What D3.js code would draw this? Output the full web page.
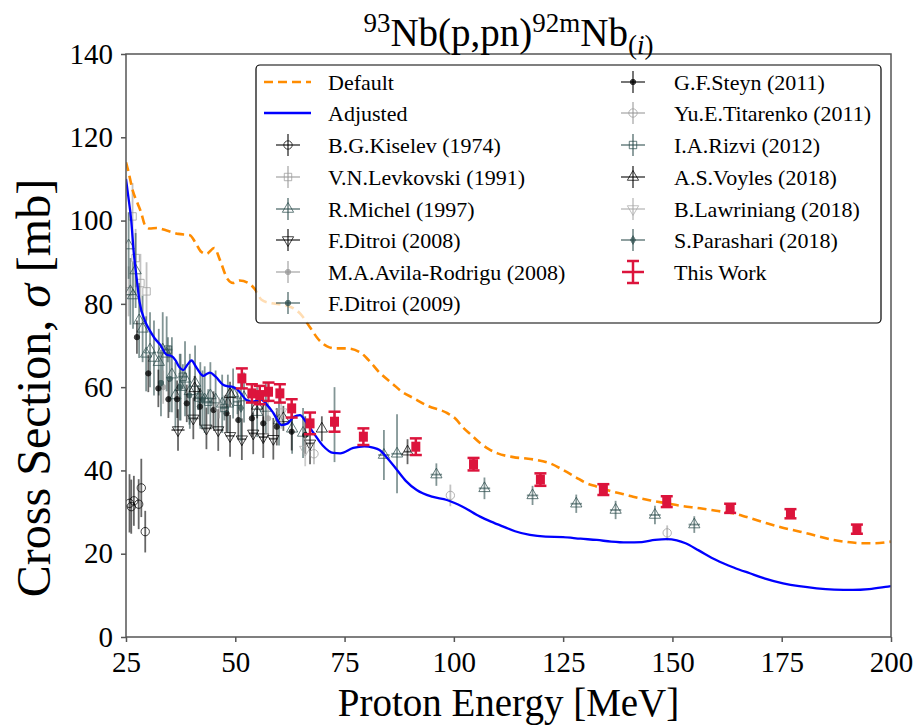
<!DOCTYPE html>
<html>
<head>
<meta charset="utf-8">
<script src="https://cdn.jsdelivr.net/npm/d3@7/dist/d3.min.js"></script>
<style>
  body { margin: 0; background: #fff; }
  svg text { font-family: "Liberation Serif", "DejaVu Serif", serif; fill: #000; }
</style>
</head>
<body>
<svg id="chart"></svg>
<script>
// ---- data ----
const xTicks = [25, 50, 75, 100, 125, 150, 175, 200]
const yTicks = [0, 20, 40, 60, 80, 100, 120, 140]

// model curves [E, sigma]
const defaultCurve = [
  [25, 114], [25.5, 112], [26.6, 107], [27.7, 104], [28.5, 101.8], [29.3, 99], [30.4, 98.1],
  [32, 98.2], [34.3, 97.6], [37, 96.8], [39.6, 96.5], [41, 94.5], [42.2, 92.5], [43.4, 92],
  [45.2, 93.4], [46.5, 90.5], [48.2, 86], [49.5, 85], [51, 85.6], [53, 85], [54.5, 83.5],
  [56, 81], [58, 80.2], [61, 79.8], [63.5, 78.8], [65, 77.5], [67, 74.5], [69, 71.5],
  [71, 69.8], [73, 69.3], [75.5, 69.3], [78.5, 68.4], [80.5, 66.5], [83, 63.5], [86, 60.8],
  [88, 59], [90.7, 57.4], [94, 55.5], [98.4, 53.8], [100.5, 52.3], [102, 50.4], [104, 48.5],
  [106, 46.6], [108, 45.1], [110, 44.1], [113.6, 43.2], [117, 42.8], [119, 42.5], [122, 41.7],
  [125, 40.1], [128, 38.3], [130, 37.1], [132.7, 36.1], [136, 35], [139.5, 34.1], [141, 33.7],
  [145, 32.8], [148.7, 32.1], [152, 31.5], [156.3, 30.9], [160, 30.3], [163.9, 29.7], [167, 28.8],
  [171.6, 27.3], [175, 26.3], [179.2, 25.3], [183, 24.3], [186.9, 23.3], [190, 22.8], [193.6, 22.5],
  [196, 22.5], [200, 22.9]
]
const adjustedCurve = [
  [25, 110], [25.5, 106], [26.2, 100], [26.8, 92], [27.4, 86.5], [28.1, 80.5], [29.3, 76],
  [30.5, 73.5], [31.5, 71.8], [32.8, 70.2], [34.3, 67.8], [35.4, 67.5], [36.3, 66.5], [37.2, 64.8],
  [38.1, 64.1], [39, 65.3], [40, 66.4], [41, 64.9], [42.7, 62.7], [43.5, 63.2], [44.2, 63.5],
  [45.5, 62.5], [47.3, 60.5], [48.3, 60.2], [49.2, 60.1], [50.5, 59.4], [52.6, 56.9], [54, 56.5],
  [55.7, 57.1], [57.2, 55.8], [58.7, 53.8], [60.6, 50.9], [62, 51.3], [63.4, 52.9], [64.8, 53.3],
  [66.2, 51.6], [67.9, 49], [70, 46], [72.4, 44.2], [74, 44.1], [77, 45.4], [79.5, 45.8],
  [81.5, 45.5], [83, 44.9], [85, 42.7], [87, 40.1], [89, 37.5], [91.5, 35.3], [95, 33.7],
  [98.4, 32.9], [102, 31.3], [106, 28.9], [108.5, 27.7], [111.3, 26.5], [114, 25.4], [117.4, 24.5],
  [121, 24.1], [125, 24], [129, 23.6], [132.7, 23.3], [136, 22.9], [139.5, 22.7], [143, 22.8],
  [146, 23.3], [148.7, 23.5], [151, 23.2], [153, 22.5], [156, 20.8], [160, 18.5], [164, 16.7],
  [167.7, 15.3], [171, 14.1], [175.3, 12.9], [179, 12.2], [183, 11.7], [187, 11.4], [191.3, 11.3],
  [195, 11.5], [199.3, 12.1], [200, 12.2]
]

// experiments [E, sigma, dSigma, dE]
const kiselev = [[25.8, 32.1, 7], [26.2, 31.3, 6.5], [26.8, 32.7, 6], [27.9, 31.9, 6], [28.5, 35.8, 7], [29.4, 25.3, 5]]
const levkovski = [[25.6, 83, 6], [26.5, 101, 8], [27.2, 91, 7], [28.3, 85, 7], [29.7, 83, 7]]
const michel = [
  [25.6, 94, 8], [26.0, 83, 8], [26.6, 82, 8], [27.2, 88, 9], [28.0, 76, 9], [28.8, 74, 8],
  [29.6, 68, 9], [30.5, 69, 9], [31.4, 67, 9], [32.5, 66, 8], [33.4, 69, 9], [34.3, 68, 9],
  [35.5, 63, 9], [36.3, 58, 8], [37.5, 60, 8], [38.5, 62, 9], [39.6, 59, 9], [40.8, 61, 9],
  [42, 58, 8], [43, 57, 8], [44.3, 58, 8], [45.5, 57, 7], [47, 56, 7], [48.3, 56, 7],
  [49.5, 58.5, 6], [52, 57.5, 6], [55, 54, 6], [57, 55, 6], [60, 52, 6], [63, 50, 6],
  [65.5, 49, 6], [84, 43.7, 6, 1.3], [87, 44, 9.5, 1.3], [96, 39, 2.7, 1.3], [107, 35.7, 2.6, 1.3],
  [118, 34, 2.3, 1.3], [128, 32, 2.2, 1.3], [137, 30.5, 2.2, 1.3], [146, 29.3, 2.2, 1.3], [155, 27, 2, 1.3]
]
const ditroi2008 = [
  [36.9, 49.7, 5, 1.5], [40.4, 52.5, 5, 1.2], [43.4, 50.1, 5, 1.2], [46.1, 49.7, 5, 1.2],
  [48.8, 48.3, 5, 1], [51.5, 47.5, 5, 1], [54.1, 48.9, 5, 1], [56.4, 48, 5, 1], [58.7, 47.6, 5, 1],
  [67.1, 46.5, 5, 1]
]
const avila = [[33.5, 60, 4], [57.5, 52.5, 4]]
const ditroi2009 = [[33, 61, 8], [35, 62, 8], [37.3, 60, 8], [39.5, 58, 7], [42.5, 57, 7]]
const steyn = [
  [27.5, 72, 4], [30.1, 63.3, 4.5], [32.4, 59.7, 4.5], [34.7, 57.1, 4.5], [36.7, 57.1, 4.5],
  [38.9, 56.1, 4.5], [41.9, 55.3, 4.5], [45, 54.5, 4.5], [48, 53.7, 4.5], [50.7, 52.1, 4.5],
  [53.8, 52.5, 4.5], [56.4, 51.3, 4.5], [59.5, 50.5, 4.5], [62.9, 49.3, 4.5], [66, 48.5, 4.5]
]
const titarenko = [[46.3, 55, 2.5], [68, 44, 2.5], [99.2, 34, 2.6], [148.8, 25, 1.8]]
const rizvi = [[34.6, 69, 3, 1], [38, 62.5, 3, 1], [41.5, 57.5, 3, 1], [43.8, 56.5, 3, 1], [47.5, 55, 3, 1], [50.5, 56.5, 3, 1]]
const voyles = [[40.7, 59.7, 3], [48.8, 58.3, 3], [55, 55.5, 3], [61, 52.5, 3], [69.8, 50, 3], [89.4, 44.5, 3, 0.8]]
const lawriniang = [[60.5, 54, 4], [66, 45, 4]]
const parashari = [[72.7, 51, 9], [51.3, 55, 8]]
const thisWork = [
  [51.5, 62.1, 2.4], [53.8, 58.5, 2.2], [55.6, 58.1, 2.2], [57.6, 58.9, 2.2], [60.2, 58.5, 2.2],
  [62.9, 54.9, 2.2], [67.1, 51.3, 2.6], [72.7, 51.7, 2.4], [79.3, 48.1, 2], [91.3, 45.7, 2],
  [104.5, 41.5, 1.5], [119.8, 37.8, 1.5], [134.2, 35.4, 1.3], [148.7, 32.5, 1.3], [163.2, 30.9, 1.1],
  [177, 29.6, 1.1], [192.2, 25.9, 1.1]
]

const experiments = [
  { name: 'B.G.Kiselev (1974)', data: kiselev, color: '#000', symbol: 'circle', open: true },
  { name: 'V.N.Levkovski (1991)', data: levkovski, color: '#999', symbol: 'square', open: true },
  { name: 'R.Michel (1997)', data: michel, color: '#2f4f4f', symbol: 'triangle', open: true },
  { name: 'F.Ditroi (2008)', data: ditroi2008, color: '#000', symbol: 'triangleDown', open: true },
  { name: 'M.A.Avila-Rodrigu (2008)', data: avila, color: '#999', symbol: 'dot', open: false },
  { name: 'F.Ditroi (2009)', data: ditroi2009, color: '#2f4f4f', symbol: 'dot', open: false },
  { name: 'G.F.Steyn (2011)', data: steyn, color: '#000', symbol: 'dot', open: false },
  { name: 'Yu.E.Titarenko (2011)', data: titarenko, color: '#999', symbol: 'circle', open: true },
  { name: 'I.A.Rizvi (2012)', data: rizvi, color: '#2f4f4f', symbol: 'square', open: true },
  { name: 'A.S.Voyles (2018)', data: voyles, color: '#000', symbol: 'triangle', open: true },
  { name: 'B.Lawriniang (2018)', data: lawriniang, color: '#aaa', symbol: 'triangleDown', open: true },
  { name: 'S.Parashari (2018)', data: parashari, color: '#2f4f4f', symbol: 'diamond', open: false },
]

// ---- layout ----
const width = 919, height = 727
const plotLeft = 126, plotRight = 891, plotTop = 54, plotBottom = 637
const FONT = '"Liberation Serif", "DejaVu Serif", serif'
const RED = '#dc143c'

const svg = d3.select('#chart').attr('width', width).attr('height', height)

const x = d3.scaleLinear().domain([25, 200]).range([plotLeft, plotRight])
const y = d3.scaleLinear().domain([0, 140]).range([plotBottom, plotTop])

svg.append('clipPath').attr('id', 'plot-clip')
  .append('rect').attr('x', plotLeft).attr('y', plotTop)
  .attr('width', plotRight - plotLeft).attr('height', plotBottom - plotTop)

const plot = svg.append('g').attr('clip-path', 'url(#plot-clip)')

function markerPath(symbol, size) {
  if (symbol === 'square') return d3.symbol(d3.symbolSquare, size)()
  if (symbol === 'diamond') return d3.symbol(d3.symbolDiamond, size)()
  if (symbol === 'triangle' || symbol === 'triangleDown') return d3.symbol(d3.symbolTriangle, size)()
  return d3.symbol(d3.symbolCircle, size)()
}

function drawMarker(g, s, cx, cy) {
  const size = (s.symbol === 'dot' || s.symbol === 'diamond') ? 22 : 55
  const rot = s.symbol === 'triangleDown' ? ' rotate(180)' : ''
  g.append('path')
    .attr('d', markerPath(s.symbol, size))
    .attr('transform', `translate(${cx},${cy})${rot}`)
    .attr('fill', s.open ? 'none' : s.color)
    .attr('stroke', s.color)
    .attr('stroke-width', 1)
    .attr('opacity', 0.75)
}

// experimental error bars
experiments.forEach(s => {
  const g = plot.append('g')
  s.data.forEach(([e, v, dv, de]) => {
    g.append('line')
      .attr('x1', x(e)).attr('x2', x(e))
      .attr('y1', y(v - dv)).attr('y2', y(v + dv))
      .attr('stroke', s.color).attr('stroke-width', 1.8).attr('stroke-opacity', 0.6)
    if (de) {
      g.append('line')
        .attr('x1', x(e - de)).attr('x2', x(e + de))
        .attr('y1', y(v)).attr('y2', y(v))
        .attr('stroke', s.color).attr('stroke-width', 1.8).attr('stroke-opacity', 0.6)
    }
    drawMarker(g, s, x(e), y(v))
  })
})

// model curves
const line = d3.line().x(d => x(d[0])).y(d => y(d[1])).curve(d3.curveMonotoneX)

plot.append('path').datum(adjustedCurve)
  .attr('d', line).attr('fill', 'none')
  .attr('stroke', '#0000ff').attr('stroke-width', 2.3)

plot.append('path').datum(defaultCurve)
  .attr('d', line).attr('fill', 'none')
  .attr('stroke', '#ff8c00').attr('stroke-width', 2.6)
  .attr('stroke-dasharray', '9,5')

// this work
const tw = plot.append('g')
thisWork.forEach(([e, v, dv]) => {
  const cx = x(e), cy = y(v)
  const capW = 6
  tw.append('line').attr('x1', cx).attr('x2', cx).attr('y1', y(v - dv)).attr('y2', y(v + dv))
    .attr('stroke', RED).attr('stroke-width', 2.5)
  tw.append('line').attr('x1', x(e - 0.8)).attr('x2', x(e + 0.8)).attr('y1', cy).attr('y2', cy)
    .attr('stroke', RED).attr('stroke-width', 2.5)
  ;[y(v - dv), y(v + dv)].forEach(capY => {
    tw.append('line').attr('x1', cx - capW).attr('x2', cx + capW).attr('y1', capY).attr('y2', capY)
      .attr('stroke', RED).attr('stroke-width', 2.5)
  })
  tw.append('rect').attr('x', cx - 4.5).attr('y', cy - 5).attr('width', 9).attr('height', 10)
    .attr('fill', RED)
})

// ---- axes ----
const axisColor = '#555'
const xAxis = d3.axisBottom(x).tickValues(xTicks).tickSize(5).tickPadding(9).tickSizeOuter(0)
const yAxis = d3.axisLeft(y).tickValues(yTicks).tickSize(5).tickPadding(8).tickSizeOuter(0)

const gx = svg.append('g').attr('transform', `translate(0,${plotBottom})`).call(xAxis)
const gy = svg.append('g').attr('transform', `translate(${plotLeft},0)`).call(yAxis)
;[gx, gy].forEach(g => {
  g.select('.domain').remove()
  g.selectAll('.tick line').attr('stroke', axisColor).attr('stroke-width', 1.5)
  g.selectAll('.tick text').attr('font-family', FONT).attr('font-size', 29).attr('fill', '#000')
})

svg.append('rect')
  .attr('x', plotLeft).attr('y', plotTop)
  .attr('width', plotRight - plotLeft).attr('height', plotBottom - plotTop)
  .attr('fill', 'none').attr('stroke', axisColor).attr('stroke-width', 1.5)

// axis labels
svg.append('text')
  .attr('x', (plotLeft + plotRight) / 2).attr('y', 716)
  .attr('text-anchor', 'middle').attr('font-size', 39)
  .text('Proton Energy [MeV]')

const yl = svg.append('text')
  .attr('transform', `translate(50,388) rotate(-90)`)
  .attr('text-anchor', 'middle').attr('font-size', 48)
yl.append('tspan').text('Cross Section, ')
yl.append('tspan').attr('font-style', 'italic').text('σ')
yl.append('tspan').text(' [mb]')

// title
const title = svg.append('text')
  .attr('x', (plotLeft + plotRight) / 2).attr('y', 46)
  .attr('text-anchor', 'middle').attr('font-size', 39)
title.append('tspan').attr('font-size', 27).attr('dy', -14).text('93')
title.append('tspan').attr('dy', 14).text('Nb(p,pn)')
title.append('tspan').attr('font-size', 27).attr('dy', -14).text('92m')
title.append('tspan').attr('dy', 14).text('Nb')
title.append('tspan').attr('font-size', 27).attr('dy', 8).text('(')
title.append('tspan').attr('font-size', 27).attr('font-style', 'italic').text('i')
title.append('tspan').attr('font-size', 27).text(')')

// ---- legend ----
const legend = svg.append('g')
legend.append('rect')
  .attr('x', 256).attr('y', 65).attr('width', 625).attr('height', 258)
  .attr('rx', 4).attr('fill', '#fff').attr('fill-opacity', 0.7)
  .attr('stroke', '#000').attr('stroke-width', 1.2)

const rowY = [82, 113, 145, 177, 209, 240, 272, 303]
const col1 = { handle: 288, text: 328 }
const col2 = { handle: 633, text: 674 }

function legendText(tx, ty, label) {
  legend.append('text').attr('x', tx).attr('y', ty).attr('dy', '0.35em')
    .attr('font-size', 22).text(label)
}

legend.append('line').attr('x1', 264).attr('x2', 311).attr('y1', rowY[0]).attr('y2', rowY[0])
  .attr('stroke', '#ff8c00').attr('stroke-width', 2.6).attr('stroke-dasharray', '9,5')
legendText(col1.text, rowY[0], 'Default')
legend.append('line').attr('x1', 264).attr('x2', 311).attr('y1', rowY[1]).attr('y2', rowY[1])
  .attr('stroke', '#0000ff').attr('stroke-width', 2.3)
legendText(col1.text, rowY[1], 'Adjusted')

const slots = []
for (let i = 2; i < 8; i++) slots.push([col1, rowY[i]])
for (let i = 0; i < 6; i++) slots.push([col2, rowY[i]])

experiments.forEach((s, i) => {
  const [col, cy] = slots[i]
  const cx = col.handle
  const g = legend.append('g')
  g.append('line').attr('x1', cx - 12).attr('x2', cx + 12).attr('y1', cy).attr('y2', cy)
    .attr('stroke', s.color).attr('stroke-width', 1.8).attr('stroke-opacity', 0.6)
  g.append('line').attr('x1', cx).attr('x2', cx).attr('y1', cy - 11).attr('y2', cy + 11)
    .attr('stroke', s.color).attr('stroke-width', 1.8).attr('stroke-opacity', 0.6)
  drawMarker(g, s, cx, cy)
  legendText(col.text, cy, s.name)
})

{
  const cx = col2.handle, cy = rowY[6]
  const g = legend.append('g').attr('stroke', RED).attr('stroke-width', 2.5)
  g.append('line').attr('x1', cx).attr('x2', cx).attr('y1', cy - 11).attr('y2', cy + 11)
  g.append('line').attr('x1', cx - 11).attr('x2', cx + 11).attr('y1', cy).attr('y2', cy)
  g.append('line').attr('x1', cx - 6).attr('x2', cx + 6).attr('y1', cy - 11).attr('y2', cy - 11)
  g.append('line').attr('x1', cx - 6).attr('x2', cx + 6).attr('y1', cy + 11).attr('y2', cy + 11)
  legendText(col2.text, cy, 'This Work')
}
</script>
</body>
</html>
